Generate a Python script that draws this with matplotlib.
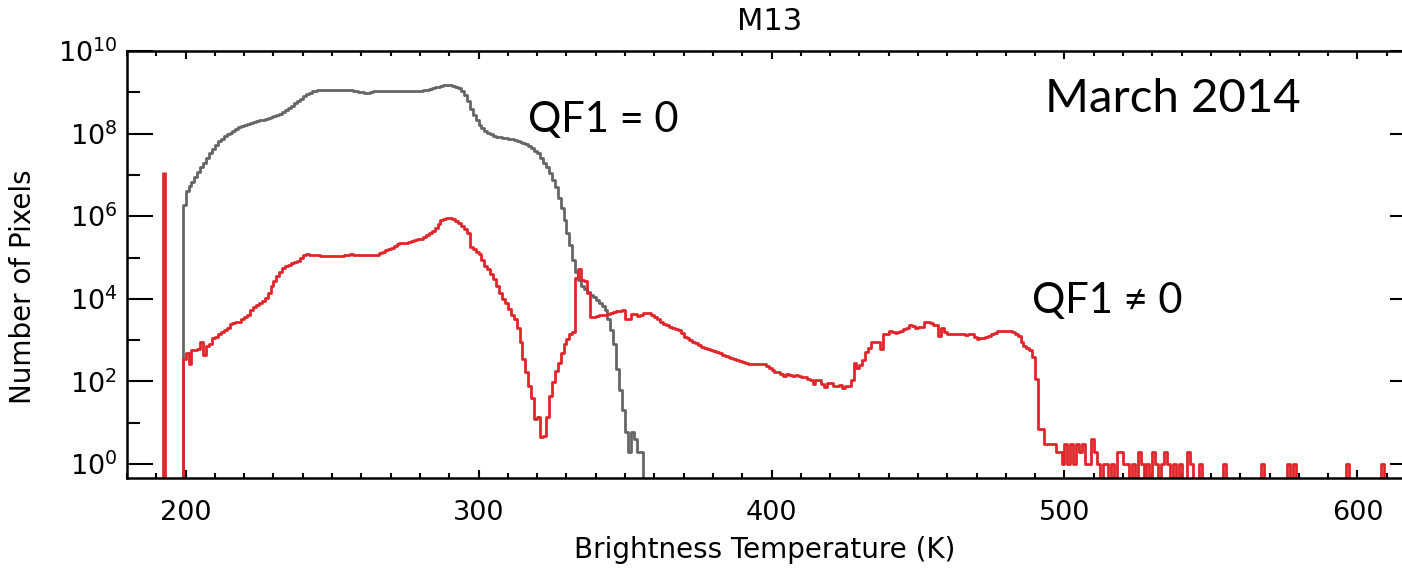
import numpy as np
import matplotlib.pyplot as plt
from matplotlib.ticker import MultipleLocator, NullFormatter

# M13 brightness temperature histograms (1 K bins), values read as log10(pixels)

# QF1 = 0 histogram, first bin at 199 K
gray_start = 199
gray_log = [
    6.28, 6.6, 6.72, 6.84, 6.95, 7.06, 7.18, 7.3, 7.42, 7.52,          # 199-208
    7.62, 7.72, 7.82, 7.88, 7.94, 7.98, 8.02, 8.06, 8.1, 8.15,         # 209-218
    8.19, 8.21, 8.24, 8.26, 8.28, 8.3, 8.32, 8.34, 8.36, 8.38,         # 219-228
    8.4, 8.42, 8.45, 8.48, 8.53, 8.58, 8.63, 8.68, 8.73, 8.79,         # 229-238
    8.85, 8.9, 8.95, 8.99, 9.02, 9.04, 9.05, 9.05, 9.05, 9.05,         # 239-248
    9.05, 9.05, 9.05, 9.05, 9.05, 9.05, 9.05, 9.05, 9.04, 9.03,        # 249-258
    9.01, 9.0, 8.98, 8.99, 9.01, 9.02, 9.03, 9.03, 9.03, 9.03,         # 259-268
    9.03, 9.03, 9.03, 9.03, 9.03, 9.03, 9.03, 9.03, 9.03, 9.03,        # 269-278
    9.03, 9.04, 9.05, 9.06, 9.08, 9.1, 9.12, 9.14, 9.16, 9.17,         # 279-288
    9.18, 9.18, 9.16, 9.14, 9.1, 9.04, 8.93, 8.78, 8.6, 8.45,          # 289-298
    8.32, 8.22, 8.14, 8.07, 8.02, 7.98, 7.95, 7.93, 7.92, 7.9,         # 299-308
    7.89, 7.88, 7.86, 7.85, 7.82, 7.8, 7.77, 7.74, 7.7, 7.64,          # 309-318
    7.58, 7.52, 7.42, 7.3, 7.18, 7.05, 6.88, 6.7, 6.45, 6.2,           # 319-328
    5.9, 5.6, 5.3, 4.95, 4.65, 4.45, 4.32, 4.25, 4.17, 4.1,            # 329-338
    4.05, 3.97, 3.9, 3.82, 3.72, 3.5, 3.25, 2.9, 2.3, 1.8,             # 339-348
    1.3, 0.78, 0.3, 0.78, 0.6, 0.3, 0.3,                               # 349-355
]

# QF1 != 0 histogram, first bin at 199 K
red_start = 199
red_log = [
    2.55, 2.68, 2.43, 2.75, 2.75, 2.78, 2.95, 2.63, 2.87, 2.9,         # 199-208
    3.05, 3.07, 3.15, 3.2, 3.25, 3.3, 3.38, 3.42, 3.43, 3.45,          # 209-218
    3.5, 3.55, 3.62, 3.72, 3.8, 3.86, 3.9, 3.95, 4.03, 4.15,           # 219-228
    4.3, 4.42, 4.55, 4.65, 4.75, 4.8, 4.83, 4.86, 4.88, 4.92,          # 229-238
    4.98, 5.05, 5.08, 5.07, 5.07, 5.06, 5.05, 5.04, 5.03, 5.03,        # 239-248
    5.03, 5.03, 5.03, 5.03, 5.04, 5.05, 5.07, 5.08, 5.06, 5.07,        # 249-258
    5.07, 5.07, 5.07, 5.07, 5.07, 5.07, 5.06, 5.1, 5.14, 5.18,         # 259-268
    5.2, 5.22, 5.27, 5.32, 5.34, 5.35, 5.36, 5.38, 5.4, 5.42,          # 269-278
    5.44, 5.46, 5.49, 5.54, 5.6, 5.65, 5.72, 5.82, 5.92, 5.94,         # 279-288
    5.95, 5.95, 5.93, 5.88, 5.84, 5.76, 5.68, 5.6, 5.26, 5.2,          # 289-298
    5.14, 5.08, 4.95, 4.8, 4.72, 4.6, 4.48, 4.3, 4.15, 4.0,            # 299-308
    3.9, 3.75, 3.62, 3.5, 3.3, 2.95, 2.55, 2.22, 1.9, 1.6,             # 309-318
    1.1, 1.15, 0.66, 0.68, 1.15, 1.65, 1.98, 2.25, 2.45, 2.7,          # 319-328
    2.9, 3.03, 3.15, 3.2, 4.51, 4.72, 4.45, 4.42, 4.15, 3.55,          # 329-338
    3.57, 3.59, 3.6, 3.6, 3.62, 3.63, 3.66, 3.67, 3.7, 3.7,            # 339-348
    3.72, 3.5, 3.5, 3.63, 3.64, 3.58, 3.6, 3.65, 3.66, 3.66,           # 349-358
    3.6, 3.55, 3.5, 3.45, 3.4, 3.37, 3.33, 3.3, 3.27, 3.24,            # 359-368
    3.18, 3.08, 3.04, 3.0, 2.96, 2.92, 2.88, 2.84, 2.8, 2.78,          # 369-378
    2.76, 2.74, 2.72, 2.7, 2.65, 2.61, 2.6, 2.57, 2.55, 2.53,          # 379-388
    2.5, 2.47, 2.44, 2.43, 2.42, 2.42, 2.42, 2.42, 2.42, 2.38,         # 389-398
    2.32, 2.28, 2.24, 2.22, 2.18, 2.14, 2.17, 2.16, 2.12, 2.15,        # 399-408
    2.12, 2.1, 2.1, 2.06, 2.04, 1.94, 2.04, 2.04, 1.95, 1.86,          # 409-418
    1.96, 1.97, 1.88, 1.9, 1.92, 1.85, 1.88, 1.88, 2.04, 2.44,         # 419-428
    2.33, 2.4, 2.51, 2.71, 2.8, 2.95, 2.95, 2.95, 2.79, 3.15,          # 429-438
    3.15, 3.23, 3.2, 3.17, 3.19, 3.22, 3.27, 3.3, 3.37, 3.35,          # 439-448
    3.3, 3.31, 3.31, 3.45, 3.44, 3.42, 3.37, 3.36, 3.11, 3.29,         # 449-458
    3.2, 3.16, 3.16, 3.16, 3.15, 3.15, 3.14, 3.13, 3.16, 3.15,         # 459-468
    3.08, 3.03, 3.04, 3.05, 3.08, 3.11, 3.14, 3.17, 3.23, 3.22,        # 469-478
    3.23, 3.23, 3.21, 3.2, 3.15, 3.1, 2.95, 2.87, 2.8, 2.75,           # 479-488
    2.59, 2.07, 0.85, 0.85,                                            # 489-492
]

# sparse tail of the QF1 != 0 histogram (K, pixel count); other bins are empty
tail_temp = [493, 494, 495, 496, 497, 498, 499, 500, 501, 502, 503, 504, 505,
             506, 507, 508, 509, 510, 511, 513, 514, 516, 518, 519, 520, 521,
             523, 525, 526, 528, 530, 531, 533, 534, 535, 537, 539, 542, 543,
             546, 554, 567, 576, 578, 596, 608]
tail_count = [3, 3, 3, 3, 2, 2, 1, 3, 1, 3, 1, 3, 2,
              3, 1, 1, 4, 2, 1, 1, 1, 1, 2, 2, 1, 1,
              1, 2, 1, 1, 2, 1, 1, 2, 1, 1, 1, 2, 1,
              1, 1, 1, 1, 1, 1, 1]
red_end = 612

# isolated fill-value bin
spike_temp = 192.5
spike_count = 1.2e7

gray_color = "#666666"
red_color = "#e0262a"


def step_xy(start, counts):
    # pad with an empty bin on each side so the outline drops to the axis
    c = np.concatenate(([0.0], counts, [0.0]))
    edges = np.arange(start - 1, start + len(counts) + 2)
    return edges, np.append(c, 0.0)


gray_counts = 10 ** np.array(gray_log)

red_counts = np.zeros(red_end - red_start + 1)
red_counts[:len(red_log)] = 10 ** np.array(red_log)
for t, c in zip(tail_temp, tail_count):
    red_counts[t - red_start] = c

fig = plt.figure(figsize=(14.02, 5.70), dpi=100)
ax = fig.add_axes([127 / 1402, 1 - 478 / 570, (1416 - 127) / 1402, (478 - 51) / 570])

x, y = step_xy(gray_start, gray_counts)
ax.step(x, y, where="post", color=gray_color, lw=2.0)
x, y = step_xy(red_start, red_counts)
ax.step(x, y, where="post", color=red_color, lw=2.0)
ax.vlines(spike_temp, 1e-3, spike_count, color=red_color, lw=3.4)

ax.set_yscale("log")
ax.set_xlim(180, 620)
ax.set_ylim(0.46, 1e10)

ax.set_xticks([200, 300, 400, 500, 600])
ax.xaxis.set_minor_locator(MultipleLocator(10))
ax.set_yticks([10.0 ** k for k in range(0, 11, 2)])
ax.set_yticks([10.0 ** k for k in range(1, 10, 2)], minor=True)
ax.yaxis.set_minor_formatter(NullFormatter())

ax.tick_params(axis="x", which="major", direction="in", length=6, width=1.5,
               top=True, labelsize=19.5, pad=16)
ax.tick_params(axis="x", which="minor", direction="in", length=3.5, width=1.5, top=True)
ax.tick_params(axis="y", which="major", direction="in", length=19, width=1.5,
               right=True, labelsize=19.5, pad=7)
ax.tick_params(axis="y", which="minor", direction="in", length=9.5, width=1.5, right=True)
for s in ax.spines.values():
    s.set_linewidth(1.8)

fig.text(770 / 1402, 1 - 21 / 570, "M13", ha="center", va="center", fontsize=22)
fig.text(765 / 1402, 1 - 550 / 570, "Brightness Temperature (K)",
         ha="center", va="center", fontsize=20)
fig.text(23 / 1402, 1 - 287 / 570, "Number of Pixels", rotation=90,
         ha="center", va="center", fontsize=20)

note_font = ["Lato", "DejaVu Sans"]
ax.text(317, 10 ** 8.34, "QF1 = 0", family=note_font, fontsize=30, va="center")
ax.text(493.5, 10 ** 8.84, "March 2014", family=note_font, fontsize=34, va="center")
ax.text(489, 10 ** 3.95, "QF1 \u2260 0", family=note_font, fontsize=30, va="center")

fig.savefig("out.png", dpi=100)
